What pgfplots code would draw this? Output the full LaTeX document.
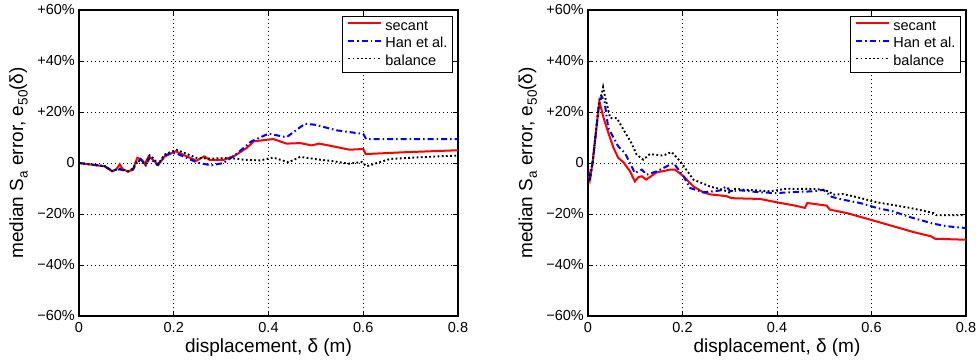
\documentclass[border=0pt]{standalone}
\usepackage{pgfplots}
\pgfplotsset{compat=1.18}
\usepackage{fontspec}
\setmainfont{Liberation Sans}
\newcommand{\tickfont}{\fontsize{14.5}{16}\selectfont}
\newcommand{\labfont}{\fontsize{19}{22}\selectfont}
\newcommand{\sub}[1]{\raisebox{-0.45ex}{\fontsize{13.5}{14}\selectfont #1}}
\tikzset{
  seccurve/.style={red, line width=2pt},
  hancurve/.style={blue, line width=2pt, dash pattern=on 6pt off 3pt on 1.5pt off 3pt},
  balcurve/.style={black, line width=1.9pt, dash pattern=on 1.8pt off 2.4pt},
}
\pgfplotsset{
  mystyle/.style={
    scale only axis, width=379pt, height=306pt,
    xmin=0, xmax=0.8, ymin=-60, ymax=60,
    xtick={0,0.2,0.4,0.6,0.8}, xticklabels={0,0.2,0.4,0.6,0.8},
    ytick={-60,-40,-20,0,20,40,60},
    yticklabels={−60\%,−40\%,−20\%,0,+20\%,+40\%,+60\%},
    tick align=inside, major tick length=5pt,
    tick style={black, line width=0.7pt},
    axis line style={black, line width=1.2pt},
    grid=major,
    major grid style={black, line width=0.6pt, dash pattern=on 1pt off 3pt},
    yticklabel style={font=\tickfont, inner sep=0pt, xshift=-4pt},
    xticklabel style={font=\tickfont, inner sep=0pt, yshift=-6pt},
    xlabel={displacement, δ (m)},
    ylabel={median S\sub{a} error, e\sub{50}(δ)},
    xlabel style={font=\labfont, at={(axis description cs:0.5,0)}, anchor=north, inner sep=0pt, yshift=-23pt},
    ylabel style={font=\labfont, at={(axis description cs:-0.1346,0.5)}, anchor=south, inner sep=0pt},
    legend style={at={(1,1)}, anchor=north east, xshift=-5pt, yshift=-6pt,
      draw=black, line width=1pt, inner xsep=5pt, inner ysep=4pt,
      font=\tickfont, row sep=4.5pt, column sep=3pt,
      nodes={inner sep=0pt, text height=10pt, text depth=3pt},
      cells={anchor=west}},
    legend image code/.code={\draw[#1] (0pt,3.5pt) -- (33pt,3.5pt);},
    legend cell align=left,
  },
}
\begin{document}
\begin{tikzpicture}
\useasboundingbox (0,0) rectangle (980pt,359pt);
\begin{axis}[mystyle, anchor=south west, at={(79pt,43pt)}]
\addplot[seccurve] coordinates {(0,0) (0.054,-1.3) (0.070,-3.3) (0.079,-2.4) (0.086,-0.5) (0.092,-2.4) (0.104,-3.4) (0.114,-2.4) (0.123,2.0) (0.132,1.3) (0.139,-0.3) (0.147,2.6) (0.156,1.3) (0.167,-0.8) (0.181,2.6) (0.204,4.6) (0.227,2.6) (0.248,0.9) (0.264,2.6) (0.276,1.2) (0.305,1.2) (0.329,2.9) (0.354,5.9) (0.369,8.5) (0.410,9.4) (0.438,7.6) (0.467,7.8) (0.491,6.9) (0.507,7.6) (0.537,6.5) (0.571,5.2) (0.600,5.5) (0.605,3.5) (0.685,4.2) (0.8,5.0)};
\addlegendentry{secant}
\addplot[hancurve] coordinates {(0,0) (0.054,-1.3) (0.070,-3.0) (0.086,-2.5) (0.104,-3.4) (0.114,-2.6) (0.121,-0.3) (0.130,1.6) (0.141,-0.9) (0.149,2.0) (0.165,-0.7) (0.185,3.3) (0.204,3.9) (0.227,2.0) (0.252,0) (0.280,-0.9) (0.305,0) (0.329,3.0) (0.364,8.5) (0.400,11.5) (0.438,10.1) (0.477,15.4) (0.498,15.0) (0.544,12.8) (0.600,11.4) (0.606,9.4) (0.8,9.4)};
\addlegendentry{Han et al.}
\addplot[balcurve] coordinates {(0,0) (0.054,-1.2) (0.070,-3.1) (0.086,-2.2) (0.104,-3.2) (0.114,-2.2) (0.123,1.0) (0.132,0.3) (0.141,-0.5) (0.149,3.0) (0.156,2.0) (0.167,-0.5) (0.180,3.2) (0.192,4.2) (0.206,5.2) (0.223,3.9) (0.248,2.0) (0.276,1.7) (0.318,2.0) (0.347,1.3) (0.382,1.0) (0.410,2.1) (0.442,0.3) (0.467,2.4) (0.508,1.3) (0.537,0.7) (0.569,-0.3) (0.597,0.4) (0.607,-1.3) (0.657,1.6) (0.756,2.6) (0.8,2.9)};
\addlegendentry{balance}
\end{axis}
\begin{axis}[mystyle, anchor=south west, at={(588pt,43pt)}, width=378pt]
\addplot[seccurve] coordinates {(0,-2.6) (0.004,-6.5) (0.010,0.7) (0.024,24.2) (0.032,18.3) (0.043,11.8) (0.054,5.9) (0.064,2.0) (0.075,0.3) (0.089,-3.3) (0.099,-7.2) (0.107,-5.5) (0.114,-5.2) (0.123,-6.5) (0.145,-3.7) (0.174,-2.6) (0.184,-2.6) (0.202,-5.2) (0.223,-9.2) (0.244,-11.5) (0.258,-12.3) (0.293,-13.0) (0.304,-13.8) (0.364,-14.1) (0.399,-15.4) (0.435,-16.6) (0.459,-17.6) (0.464,-15.7) (0.505,-16.7) (0.512,-18.3) (0.547,-19.6) (0.597,-22.2) (0.646,-24.8) (0.689,-27.1) (0.727,-28.8) (0.734,-29.7) (0.8,-30.1)};
\addlegendentry{secant}
\addplot[hancurve] coordinates {(0,-2.6) (0.003,-7.2) (0.010,0) (0.023,22.9) (0.029,26.1) (0.035,24) (0.043,13.7) (0.064,6.5) (0.078,3.9) (0.089,0) (0.099,-3.9) (0.114,-2.6) (0.124,-4.6) (0.145,-3.3) (0.181,0) (0.202,-5.2) (0.216,-9.8) (0.244,-11.5) (0.279,-10.8) (0.293,-9.2) (0.301,-11.1) (0.322,-10.7) (0.364,-11.5) (0.399,-11.8) (0.435,-11.4) (0.477,-11.1) (0.498,-10.5) (0.516,-13.3) (0.540,-14.4) (0.576,-15.7) (0.611,-17.6) (0.646,-19.0) (0.681,-21.2) (0.731,-23.8) (0.759,-24.8) (0.8,-25.5)};
\addlegendentry{Han et al.}
\addplot[balcurve] coordinates {(0,-2.6) (0.004,-7.0) (0.010,1.0) (0.024,24.5) (0.029,27) (0.032,29.8) (0.036,26.1) (0.047,17.6) (0.061,17.6) (0.075,13.1) (0.092,7.8) (0.103,3.3) (0.117,1.3) (0.131,3.5) (0.159,2.9) (0.177,4.3) (0.195,0.7) (0.223,-6.5) (0.258,-9.2) (0.286,-10.5) (0.301,-11.8) (0.308,-10.1) (0.336,-10.5) (0.385,-11.1) (0.420,-10.1) (0.484,-10.2) (0.509,-11.1) (0.519,-12.4) (0.540,-12.2) (0.576,-13.7) (0.611,-15.4) (0.681,-17.6) (0.731,-19.6) (0.738,-20.5) (0.8,-20.5)};
\addlegendentry{balance}
\end{axis}
\end{tikzpicture}
\end{document}
